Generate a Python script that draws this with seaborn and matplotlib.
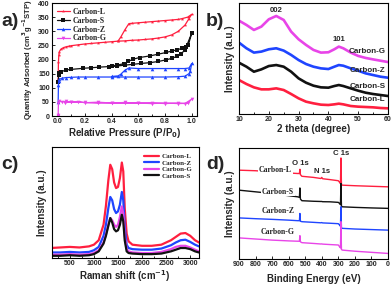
import numpy as np
import pandas as pd
import matplotlib
matplotlib.use("Agg")
import matplotlib.pyplot as plt
import seaborn as sns
from matplotlib.ticker import MultipleLocator

sns.set_style("ticks")
plt.rcParams['font.family'] = ['Liberation Sans', 'DejaVu Sans']
plt.rcParams['font.weight'] = 'bold'
plt.rcParams['mathtext.default'] = 'bf'

RED = '#ff1f3f'
BLUE = '#1f45ff'
MAG = '#e845e8'
BLK = '#111111'
SERIF = ['Liberation Serif', 'DejaVu Serif']

# ---------------- panel a : N2 isotherms ----------------
L_p = [0.001, 0.003, 0.006, 0.01, 0.02, 0.04, 0.06, 0.08, 0.1, 0.15, 0.2, 0.25, 0.3, 0.35, 0.4, 0.45,
       0.5, 0.55, 0.6, 0.65, 0.7, 0.75, 0.8, 0.85, 0.9, 0.95, 0.98, 1.0,
       0.97, 0.93, 0.9, 0.85, 0.8, 0.75, 0.7, 0.65, 0.6, 0.55, 0.53, 0.5, 0.47, 0.45]
L_v = [130, 190, 215, 228, 236, 242, 245, 247, 249, 252, 255, 257, 259, 261, 263, 265,
       266, 268, 269, 271, 273, 276, 280, 287, 300, 322, 345, 360,
       350, 345, 342, 340, 338, 336, 334, 332, 330, 328, 327, 305, 280, 266]
S_p = [0.001, 0.005, 0.01, 0.025, 0.06, 0.1, 0.19, 0.25, 0.31, 0.38, 0.44, 0.5, 0.56, 0.62, 0.69, 0.75,
       0.81, 0.85, 0.89, 0.92, 0.95, 0.975, 1.0,
       0.96, 0.93, 0.89, 0.85, 0.81, 0.75, 0.69, 0.61, 0.56, 0.525, 0.49, 0.44, 0.4]
S_v = [120, 145, 152, 157, 163, 165, 169, 171, 173, 175, 177, 180, 183, 186, 189, 193,
       199, 204, 211, 220, 234, 252, 293,
       246, 240, 234, 230, 225, 219, 213, 207, 201, 193, 185, 180, 177]
Z_p = [0.001, 0.003, 0.006, 0.01, 0.03, 0.06, 0.1, 0.15, 0.2, 0.3, 0.4, 0.5, 0.6, 0.7, 0.8, 0.9,
       0.95, 0.98, 0.99, 1.0,
       0.98, 0.95, 0.9, 0.8, 0.7, 0.6, 0.53, 0.5, 0.47, 0.45, 0.4]
Z_v = [50, 110, 125, 130, 134, 136, 137, 138, 138, 138, 138, 138, 138, 138, 138, 139,
       141, 150, 160, 186,
       170, 168, 168, 168, 168, 168, 170, 162, 148, 142, 140]
G_p = [0.0, 0.001, 0.003, 0.01, 0.03, 0.06, 0.1, 0.15, 0.2, 0.3, 0.4, 0.5, 0.6, 0.7, 0.8, 0.9,
       0.95, 1.0,
       0.97, 0.9, 0.8, 0.7, 0.6, 0.5, 0.4, 0.3, 0.2, 0.1, 0.05]
G_v = [0, 5, 45, 52, 50, 52, 48, 51, 47, 49, 46, 48, 45, 47, 44, 46,
       44, 60,
       45, 44, 46, 44, 46, 45, 47, 45, 48, 50, 47]

# ---------------- panel b : XRD ----------------
xrd_2t = [10, 12.5, 15, 17.5, 20, 22.5, 25, 27.5, 30, 32.5, 35, 37.5, 40, 42, 43.5, 45, 47.5, 50, 52.5, 55, 57.5, 60]
xrd_G = [84.1, 80.2, 75.7, 78.7, 85.3, 88.3, 84.7, 74.2, 67.3, 62.2, 57.7, 55.3, 55.6, 58.3, 60.7, 59.2, 55.3, 52.3, 50.5, 49.2, 48.0, 46.8]
xrd_Z = [64.3, 59.2, 55.3, 56.2, 58.3, 59.2, 57.1, 53.2, 48.6, 45.0, 42.6, 41.1, 40.5, 42.6, 44.1, 43.5, 41.1, 39.0, 36.6, 35.1, 33.6, 32.7]
xrd_S = [46.2, 42.6, 38.1, 40.2, 43.2, 44.1, 42.6, 38.1, 32.1, 28.2, 25.5, 24.0, 23.7, 25.2, 26.1, 25.2, 23.1, 21.0, 19.2, 18.0, 17.1, 16.2]
xrd_L = [30.6, 27.0, 24.0, 22.2, 22.2, 23.1, 21.6, 18.0, 14.1, 11.1, 9.6, 8.4, 8.1, 8.7, 9.3, 8.7, 7.2, 6.6, 6.3, 6.0, 5.4, 5.1]

# ---------------- panel c : Raman ----------------
ram_x = [100, 300, 500, 700, 900, 1000, 1100, 1200, 1250, 1300, 1340, 1380, 1420, 1460, 1500, 1540, 1580, 1610,
         1640, 1680, 1720, 1800, 2000, 2200, 2400, 2600, 2700, 2800, 2900, 3000, 3100, 3180]
ram_L = [9, 9.5, 10, 9.5, 10.5, 12, 16, 30, 47, 70, 84, 80, 68, 63, 64, 72, 86, 78,
         45, 22, 15, 12, 11, 11, 12, 16, 19, 22, 22.5, 20, 16, 14]
ram_Z = [5, 5, 5.5, 5, 5.5, 7, 10, 20, 30, 45, 55, 52, 44, 40.5, 42, 48, 59.5, 52,
         28, 12, 9, 8, 7.5, 7.5, 8.5, 11.5, 14, 16, 16.5, 14.5, 12, 10.5]
ram_G = [3, 3, 3.5, 3, 3.5, 4.5, 7, 14, 21, 30, 36, 34, 30, 28, 30, 37, 46.5, 40,
         20, 8, 6, 5, 4.5, 4.5, 5.5, 8, 10, 11, 11, 9.5, 7.5, 6]
ram_S = [2, 2, 2.5, 2, 2.5, 3.5, 6, 13, 20, 29, 36, 32, 26, 24, 25, 30, 39, 33,
         16, 6, 4.5, 4, 3.5, 3.5, 4, 6, 7.5, 9, 9, 8, 6, 5]

# ---------------- panel d : XPS ----------------
xps_e = [900, 800, 700, 600, 545, 535, 532, 529, 520, 450, 405, 400, 395, 350, 300, 292, 287, 284, 281, 275, 200, 100, 0]
xps_L = [80, 79.5, 78.5, 77.5, 77, 77, 80.8, 76, 74.5, 73.5, 72.5, 73.5, 72.3, 71.5, 70.5, 69, 68, 91, 67, 66.5, 66, 65.5, 65]
xps_S = [62, 60.5, 59, 57, 56, 55.5, 64, 54, 52.5, 52, 51.8, 51.8, 51.6, 51.5, 51, 50, 49, 68, 47.5, 47, 46.5, 46, 45.6]
xps_Z = [37, 36.3, 35.7, 35, 34.5, 34.5, 41, 34, 33.6, 33, 32.6, 32.8, 32.5, 32.2, 31.8, 30.5, 29.5, 47, 28, 27.6, 27, 26.5, 26]
xps_G = [19, 18, 17, 16.3, 16, 16, 21, 15.5, 14.7, 14, 13.5, 13.6, 13.4, 13, 12.6, 11, 10, 33.6, 8.5, 8, 7, 6, 5]

fig = plt.figure(figsize=(3.92, 2.87), dpi=100)
axA = fig.add_axes([0.1327, 0.5958, 0.370, 0.3937])
axB = fig.add_axes([0.6097, 0.6028, 0.380, 0.3868])
axC = fig.add_axes([0.1314, 0.1010, 0.376, 0.3868])
axD = fig.add_axes([0.6097, 0.0976, 0.380, 0.3868])

TICK_FS = 5
LAB_FS = 7

def style(ax):
    for s in ax.spines.values():
        s.set_linewidth(0.8)
        s.set_color('black')
    ax.tick_params(which='both', direction='in', labelsize=TICK_FS, width=0.7, pad=1.5)
    ax.tick_params(which='major', length=2.5)
    ax.tick_params(which='minor', length=1.5)
    for t in ax.get_xticklabels() + ax.get_yticklabels():
        t.set_fontweight('bold')

# panel a
for p, v, c, m, lab in [(L_p, L_v, RED, '*', 'Carbon-L'), (S_p, S_v, BLK, 's', 'Carbon-S'),
                        (Z_p, Z_v, BLUE, '^', 'Carbon-Z'), (G_p, G_v, MAG, 'v', 'Carbon-G')]:
    sns.lineplot(x=p, y=v, ax=axA, sort=False, estimator=None, color=c, lw=0.9,
                 marker=m, markersize=2.6, markeredgewidth=0, label=lab)
axA.set_xlim(-0.045, 1.04)
axA.set_ylim(0, 400)
axA.xaxis.set_major_locator(MultipleLocator(0.2))
axA.xaxis.set_minor_locator(MultipleLocator(0.1))
axA.yaxis.set_major_locator(MultipleLocator(50))
axA.set_xlabel('Relative Pressure (P/P$_0$)', fontsize=LAB_FS, fontweight='bold', labelpad=1)
axA.set_ylabel('Quantity Adsorbed (cm$^3$g$^{-1}$STP)', fontsize=5.5, fontweight='bold', labelpad=2)
leg = axA.legend(loc='upper left', frameon=False, prop={'family': SERIF, 'weight': 'bold', 'size': 5.6},
                 handlelength=1.6, handletextpad=0.4, labelspacing=0.1, borderaxespad=0.25)
style(axA)

# panel b
for y, c, lab, ly in [(xrd_G, MAG, 'Carbon-G', 56), (xrd_Z, BLUE, 'Carbon-Z', 39.6),
                      (xrd_S, BLK, 'Carbon-S', 25), (xrd_L, RED, 'Carbon-L', 13.2)]:
    sns.lineplot(x=xrd_2t, y=y, ax=axB, sort=False, estimator=None, color=c, lw=1.9)
    axB.text(59.2, ly, lab, ha='right', va='center', fontsize=5.8, fontweight='bold')
axB.text(22.6, 93, '002', ha='center', va='center', fontsize=5.6, fontweight='bold')
axB.text(43.6, 67, '101', ha='center', va='center', fontsize=5.6, fontweight='bold')
axB.set_xlim(10, 60)
axB.set_ylim(0, 100)
axB.set_yticks([])
axB.xaxis.set_major_locator(MultipleLocator(10))
axB.xaxis.set_minor_locator(MultipleLocator(5))
axB.set_xlabel('2 theta (degree)', fontsize=LAB_FS, fontweight='bold', labelpad=1)
axB.set_ylabel('Intensity (a.u.)', fontsize=LAB_FS, fontweight='bold', labelpad=3)
style(axB)

# panel c
for y, c, lab in [(ram_L, RED, 'Carbon-L'), (ram_Z, BLUE, 'Carbon-Z'),
                  (ram_G, MAG, 'Carbon-G'), (ram_S, BLK, 'Carbon-S')]:
    sns.lineplot(x=ram_x, y=y, ax=axC, sort=False, estimator=None, color=c, lw=1.6, label=lab)
axC.set_xlim(120, 3180)
axC.set_ylim(0, 100)
axC.set_yticks([])
axC.xaxis.set_major_locator(MultipleLocator(500))
axC.xaxis.set_minor_locator(MultipleLocator(250))
axC.set_xlabel('Raman shift (cm$^{-1}$)', fontsize=LAB_FS, fontweight='bold', labelpad=1)
axC.set_ylabel('Intensity (a.u.)', fontsize=LAB_FS, fontweight='bold', labelpad=3)
axC.legend(loc='upper right', frameon=False, prop={'family': SERIF, 'weight': 'bold', 'size': 5.0},
           handlelength=2.2, handletextpad=0.4, labelspacing=0.1, borderaxespad=0.5)
style(axC)

# panel d
for y, c, lab, lx, ly in [(xps_L, RED, 'Carbon-L', 680, 80.5), (xps_S, BLK, 'Carbon-S', 664, 60.7),
                          (xps_Z, BLUE, 'Carbon-Z', 664, 43), (xps_G, MAG, 'Carbon-G', 664, 24.6)]:
    sns.lineplot(x=xps_e, y=y, ax=axD, sort=False, estimator=None, color=c, lw=1.0)
    axD.text(lx, ly, lab, ha='center', va='center', fontsize=5.6, fontweight='bold', family=SERIF,
             bbox=dict(facecolor='white', edgecolor='none', pad=0.6))
axD.text(530, 86, 'O 1s', ha='center', va='center', fontsize=5.6, fontweight='bold')
axD.text(399, 78.5, 'N 1s', ha='center', va='center', fontsize=5.6, fontweight='bold')
axD.text(284, 95, 'C 1s', ha='center', va='center', fontsize=5.6, fontweight='bold')
axD.set_xlim(900, 0)
axD.set_ylim(0, 100)
axD.set_yticks([])
axD.xaxis.set_major_locator(MultipleLocator(100))
axD.set_xlabel('Binding Energy (eV)', fontsize=LAB_FS, fontweight='bold', labelpad=4)
axD.set_ylabel('Intensity (a.u.)', fontsize=LAB_FS, fontweight='bold', labelpad=3)
style(axD)

for txt, x, y in [('a)', 0.003, 0.955), ('b)', 0.525, 0.955), ('c)', 0.003, 0.455), ('d)', 0.525, 0.455)]:
    fig.text(x, y, txt, fontsize=14, fontweight='bold', va='top', ha='left')

fig.savefig('out.png', dpi=100)
